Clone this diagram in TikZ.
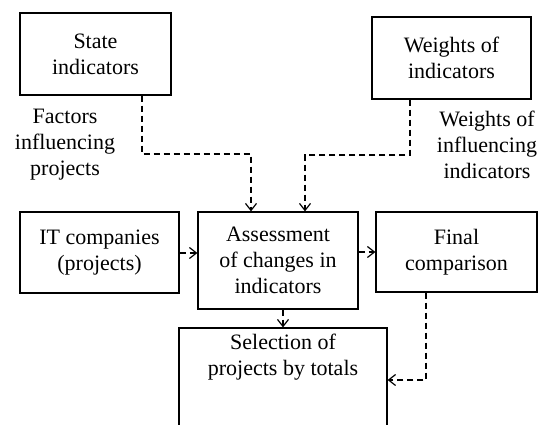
\documentclass[tikz,border=0pt]{standalone}
\usepackage{fontspec}
\setmainfont{LiberationSerif}[Extension=.ttf, UprightFont=*-Regular, BoldFont=*-Bold]
\usetikzlibrary{arrows.meta,positioning}

\tikzset{
  block/.style={draw, line width=1.2pt, align=center, inner sep=2pt},
  lbl/.style={align=center, inner sep=0pt},
  dline/.style={line width=1.2pt, dash pattern=on 6pt off 4pt, -{Straight Barb[length=7pt,width=11pt]}}
}

\begin{document}
\begin{tikzpicture}[x=1pt, y=-1pt, font=\fontsize{22}{26}\selectfont]

\clip (0,0) rectangle (539,424);
\node[block, minimum width=151pt, minimum height=82pt] (state) at (95.5,54) {State\\indicators};
\node[block, minimum width=159pt, minimum height=82pt] (weights) at (451.5,58) {Weights of\\indicators};
\node[block, minimum width=159pt, minimum height=81pt] (itc) at (99.5,252.5) {IT companies\\(projects)};
\node[block, minimum width=160pt, minimum height=97pt] (assess) at (278,260.5) {Assessment\\of changes in\\indicators};
\node[block, minimum width=161pt, minimum height=80pt] (final) at (456.5,252) {Final\\comparison};
\node[block, minimum width=208pt, minimum height=104pt] (select) at (283,380) {};
\node[lbl, below=6pt of select.north] (seltext) {Selection of\\projects by totals};

\node[lbl] (factors) at (65,145) {Factors\\influencing\\projects};
\node[lbl] (wlabel) at (487,145) {Weights of\\influencing\\indicators};

\coordinate (s1) at (142,154);
\coordinate (w1) at (410,155);
\draw[dline] (state.south -| s1) -- (s1) -| ([xshift=-27pt]assess.north);
\draw[dline] (weights.south -| w1) -- (w1) -| ([xshift=27pt]assess.north);
\draw[dline] ([yshift=-0.5pt]itc.east) -- ([yshift=-0.5pt]itc.east -| assess.west);
\draw[dline] (assess.east |- final.west) -- (final.west);
\draw[dline] (select.north |- assess.south) -- (select.north);
\draw[dline] ([xshift=-30.5pt]final.south) |- (select.east);

\end{tikzpicture}
\end{document}
